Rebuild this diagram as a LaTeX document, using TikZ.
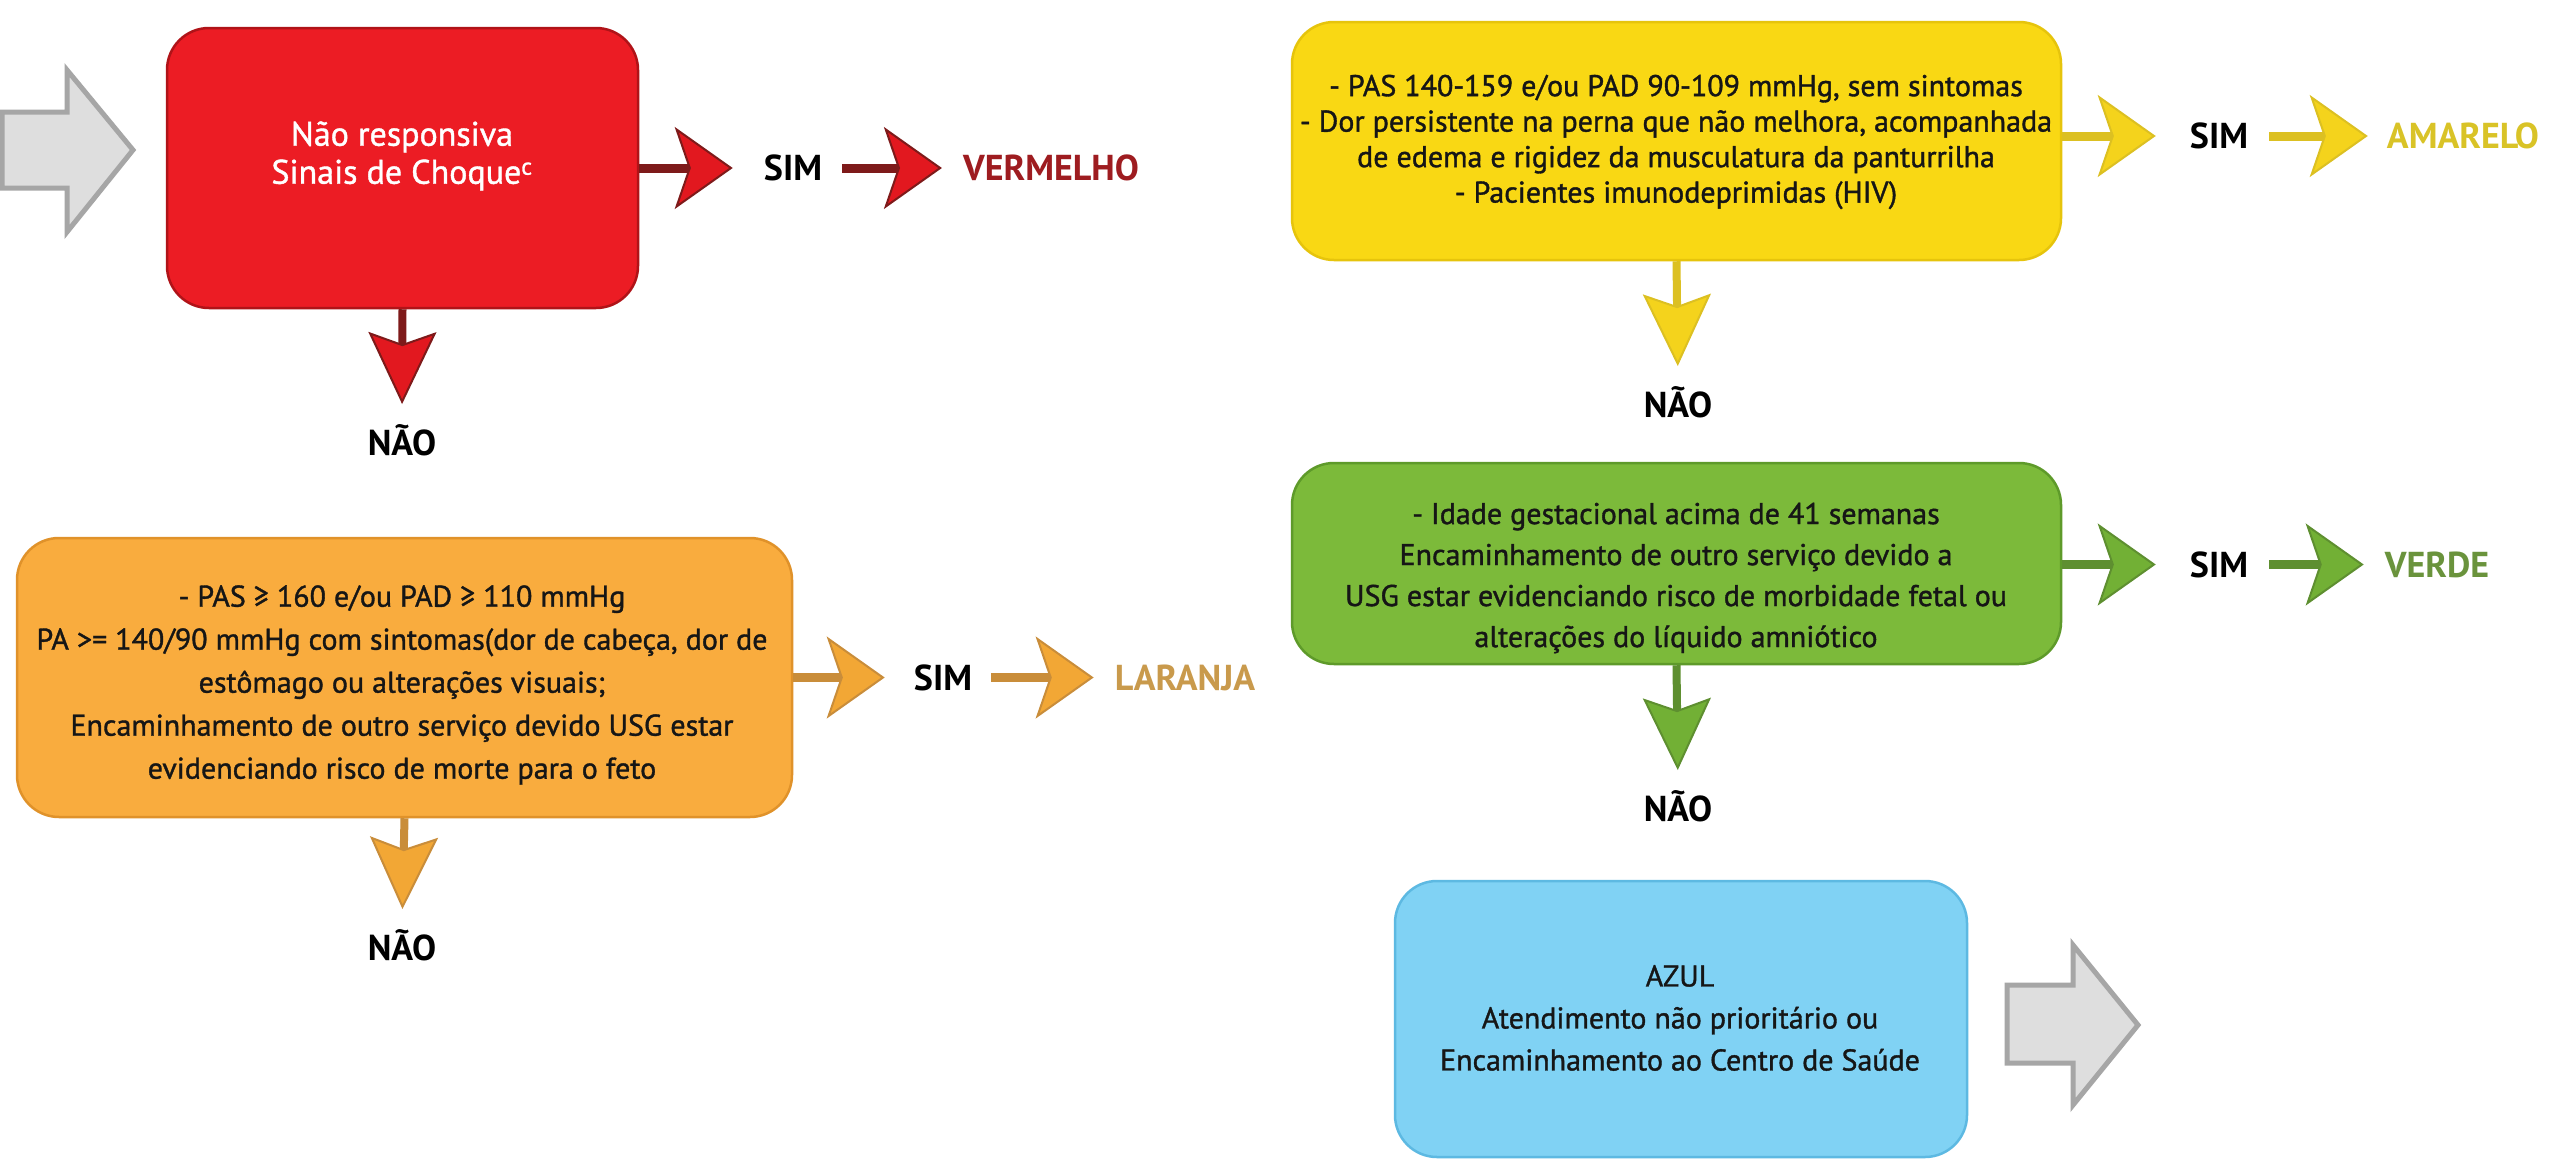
\documentclass[tikz,border=0pt]{standalone}
\usepackage{fontspec}
\setmainfont{PT Sans}
\newfontfamily\boxfont[FakeBold=1.2]{PT Sans}
\usetikzlibrary{arrows.meta}

\definecolor{redbox}{HTML}{EC1C24}
\definecolor{redline}{HTML}{B01318}
\definecolor{redshaft}{HTML}{7E1A1A}
\definecolor{redhead}{HTML}{E2181F}
\definecolor{redword}{HTML}{9E1C20}
\definecolor{yelbox}{HTML}{F9D814}
\definecolor{yelline}{HTML}{E6C40C}
\definecolor{yelshaft}{HTML}{DCC022}
\definecolor{yelhead}{HTML}{F4D31C}
\definecolor{yelword}{HTML}{D9C327}
\definecolor{orabox}{HTML}{F9AC3E}
\definecolor{oraline}{HTML}{E0922A}
\definecolor{orashaft}{HTML}{C98D3A}
\definecolor{orahead}{HTML}{F2A735}
\definecolor{oraword}{HTML}{C99A4C}
\definecolor{grebox}{HTML}{7CBA3A}
\definecolor{greline}{HTML}{5E9A2A}
\definecolor{greshaft}{HTML}{5E8F30}
\definecolor{grehead}{HTML}{72B035}
\definecolor{greword}{HTML}{6A933C}
\definecolor{bluebox}{HTML}{80D2F4}
\definecolor{blueline}{HTML}{5DB9E2}
\definecolor{greyfill}{HTML}{DEDEDE}
\definecolor{greyline}{HTML}{A6A6A6}
\definecolor{ink}{HTML}{161616}

\pgfkeys{/pgf/arrow keys/.cd,
  hdim/.style={length=58pt, width=82pt, inset=14pt, line width=2pt},
  vdim/.style={length=72pt, width=68pt, inset=12pt, line width=2pt}}

\begin{document}
\begin{tikzpicture}[x=1pt,y=-1pt,
  box/.style={rounded corners=42pt, line width=2.5pt, inner sep=0pt},
  boxtext/.style={align=center, inner sep=0pt, text=ink},
  lbl/.style={inner sep=0pt, font=\bfseries\fontsize{36}{40}\selectfont},
  redH/.style={line width=9pt, draw=redshaft, -{Stealth[hdim, color=redshaft, fill=redhead]}},
  redV/.style={line width=8pt, draw=redshaft, -{Stealth[vdim, color=redshaft, fill=redhead]}},
  yelH/.style={line width=9pt, draw=yelshaft, -{Stealth[hdim, color=yelshaft, fill=yelhead]}},
  yelV/.style={line width=8pt, draw=yelshaft, -{Stealth[vdim, color=yelshaft, fill=yelhead]}},
  oraH/.style={line width=9pt, draw=orashaft, -{Stealth[hdim, color=orashaft, fill=orahead]}},
  oraV/.style={line width=8pt, draw=orashaft, -{Stealth[vdim, color=orashaft, fill=orahead]}},
  greH/.style={line width=9pt, draw=greshaft, -{Stealth[hdim, color=greshaft, fill=grehead]}},
  greV/.style={line width=8pt, draw=greshaft, -{Stealth[vdim, color=greshaft, fill=grehead]}},
  bigarrow/.style={fill=greyfill, draw=greyline, line width=5pt, line join=miter}
]
\path[use as bounding box, fill=white] (0,0) rectangle (2554,1159);

% entry and exit arrows
\draw[bigarrow] (2,112) -- (67,112) -- (67,70) -- (133,150) -- (67,232) -- (67,188) -- (2,188) -- cycle;
\draw[bigarrow] (2007,985) -- (2073,985) -- (2073,945) -- (2138,1025) -- (2073,1105) -- (2073,1063) -- (2007,1063) -- cycle;

% coloured boxes
\node[box, fill=redbox, draw=redline, minimum width=471pt, minimum height=280pt] (red) at (402.5,168) {};
\node[box, fill=yelbox, draw=yelline, minimum width=769pt, minimum height=238pt] (yel) at (1676.5,141) {};
\node[box, fill=orabox, draw=oraline, minimum width=775pt, minimum height=279pt] (ora) at (404.5,677.5) {};
\node[box, fill=grebox, draw=greline, minimum width=769pt, minimum height=201pt] (gre) at (1676.5,563.5) {};
\node[box, fill=bluebox, draw=blueline, minimum width=572pt, minimum height=276pt] (blu) at (1681,1019) {};

% box texts
\node[boxtext, text=white, font=\boxfont\fontsize{34}{38}\selectfont] (redtxt) at (402,156)
  {Não responsiva\\Sinais de Choque\textsuperscript{c}};
\node[boxtext, font=\boxfont\fontsize{30}{35.5}\selectfont] (yeltxt) at (1676,142)
  {- PAS 140-159 e/ou PAD 90-109 mmHg, sem sintomas\\
   - Dor persistente na perna que não melhora, acompanhada\\
   de edema e rigidez da musculatura da panturrilha\\
   - Pacientes imunodeprimidas (HIV)};
\node[boxtext, font=\boxfont\fontsize{30}{43}\selectfont] (oratxt) at (402,685)
  {- PAS ≥ 160 e/ou PAD ≥ 110 mmHg\\
   PA >= 140/90 mmHg com sintomas(dor de cabeça, dor de\\
   estômago ou alterações visuais;\\
   Encaminhamento de outro serviço devido USG estar\\
   evidenciando risco de morte para o feto};
\node[boxtext, font=\boxfont\fontsize{30}{41}\selectfont] (gretxt) at (1676,578)
  {- Idade gestacional acima de 41 semanas\\
   Encaminhamento de outro serviço devido a\\
   USG estar evidenciando risco de morbidade fetal ou\\
   alterações do líquido amniótico};
\node[boxtext, font=\boxfont\fontsize{30}{42}\selectfont] (blutxt) at (1680,1018)
  {AZUL\\
   Atendimento não prioritário ou\\
   Encaminhamento ao Centro de Saúde};

% decision labels
\node[lbl] (sim1) at (793,168) {SIM};
\node[lbl, text=redword] (verm) at (1051,168) {VERMELHO};
\node[lbl] (nao1) at (402,440) {NÃO};

\node[lbl] (sim2) at (2219,136) {SIM};
\node[lbl, text=yelword] (amar) at (2463,136) {AMARELO};
\node[lbl] (nao2) at (1678,402) {NÃO};

\node[lbl] (sim3) at (943,677.5) {SIM};
\node[lbl, text=oraword] (lara) at (1185,677.5) {LARANJA};
\node[lbl] (nao3) at (402,945) {NÃO};

\node[lbl] (sim4) at (2219,564.5) {SIM};
\node[lbl, text=greword] (verd) at (2437,564.5) {VERDE};
\node[lbl] (nao4) at (1678,806) {NÃO};

% connectors
\draw[redH, shorten >=31pt] (red.east) -- (sim1.west);
\draw[redH, shorten <=20pt, shorten >=21pt] (sim1.east) -- (verm.west);
\draw[redV, shorten >=20pt] (red.south) -- (nao1.north);

\draw[yelH, shorten >=34pt] (yel.east |- sim2.west) -- (sim2.west);
\draw[yelH, shorten <=21pt, shorten >=19pt] (sim2.east) -- (amar.west);
\draw[yelV, shorten >=20pt] (yel.south) -- (nao2.north);

\draw[oraH, shorten >=29pt] (ora.east) -- (sim3.west);
\draw[oraH, shorten <=19pt, shorten >=21pt] (sim3.east) -- (lara.west);
\draw[oraV, shorten >=20pt] (ora.south) -- (nao3.north);

\draw[greH, shorten >=34pt] (gre.east |- sim4.west) -- (sim4.west);
\draw[greH, shorten <=21pt, shorten >=21pt] (sim4.east) -- (verd.west);
\draw[greV, shorten >=20pt] (gre.south) -- (nao4.north);
\end{tikzpicture}
\end{document}
